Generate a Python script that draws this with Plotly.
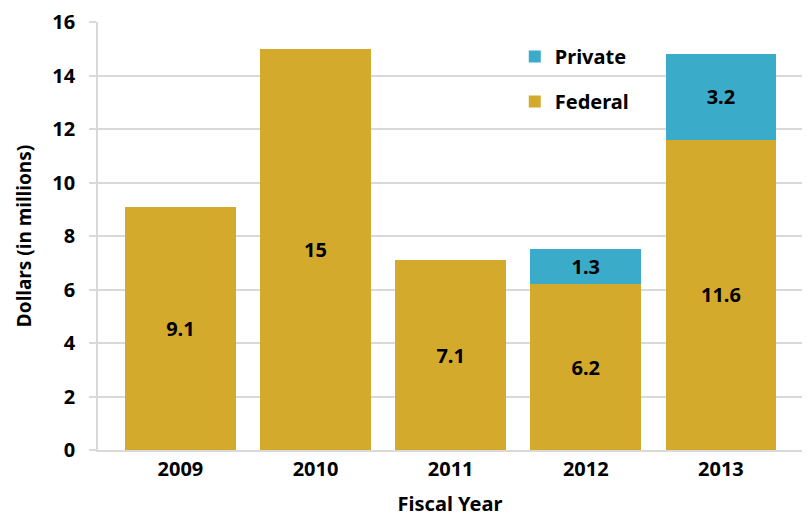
import plotly.graph_objects as go

years = ["2009", "2010", "2011", "2012", "2013"]
federal = [9.1, 15, 7.1, 6.2, 11.6]
private = [None, None, None, 1.3, 3.2]
y_ticks = [0, 2, 4, 6, 8, 10, 12, 14, 16]

FONT = "Noto Sans"
fed_color = "#D4AA2D"
priv_color = "#3AABC8"

fig = go.Figure()
fig.add_trace(go.Bar(
    x=years, y=federal, name="Federal", marker_color=fed_color, marker_line_width=0,
    text=[str(v) for v in federal], textposition="inside", insidetextanchor="middle",
    textfont=dict(family=FONT, size=20, color="black", weight="bold"),
    legendgroup="f", legendrank=2, width=0.82,
))
fig.add_trace(go.Bar(
    x=years, y=private, name="Private", marker_color=priv_color, marker_line_width=0,
    text=[("" if v is None else str(v)) for v in private], textposition="inside",
    insidetextanchor="middle",
    textfont=dict(family=FONT, size=20, color="black", weight="bold"),
    legendgroup="p", legendrank=1, width=0.82,
))

fig.update_layout(
    barmode="stack",
    width=803, height=509,
    margin=dict(l=90, r=9, t=14, b=67),
    plot_bgcolor="white", paper_bgcolor="white",
    font=dict(family=FONT, color="black", size=20, weight="bold"),
    legend=dict(
        x=0.592, y=0.965, xanchor="left", yanchor="top",
        traceorder="grouped", tracegroupgap=16,
        font=dict(family=FONT, size=20, color="black", weight="bold"),
        bgcolor="rgba(0,0,0,0)",
    ),
    xaxis=dict(
        type="category", range=[-0.61, 4.6], automargin=False,
        showline=True, linecolor="#d9d9d9", linewidth=1.5,
        ticks="", tickfont=dict(family=FONT, size=20, weight="bold"),
        title=dict(text="Fiscal Year", font=dict(family=FONT, size=20, weight="bold"), standoff=17),
    ),
    yaxis=dict(
        range=[0, 16], tickvals=y_ticks, automargin=False,
        showgrid=True, gridcolor="#d9d9d9", gridwidth=1.5,
        showline=True, linecolor="#d9d9d9", linewidth=1.5,
        ticks="outside", ticklen=7, tickcolor="#d9d9d9", tickwidth=1.5,
        ticklabelstandoff=10, ticklabeloverflow="allow",
        tickfont=dict(family=FONT, size=20, weight="bold"),
        zeroline=False,
        title=dict(text="Dollars (in millions)", font=dict(family=FONT, size=19, weight="bold"), standoff=16),
    ),
)

fig.write_html("out.html")
